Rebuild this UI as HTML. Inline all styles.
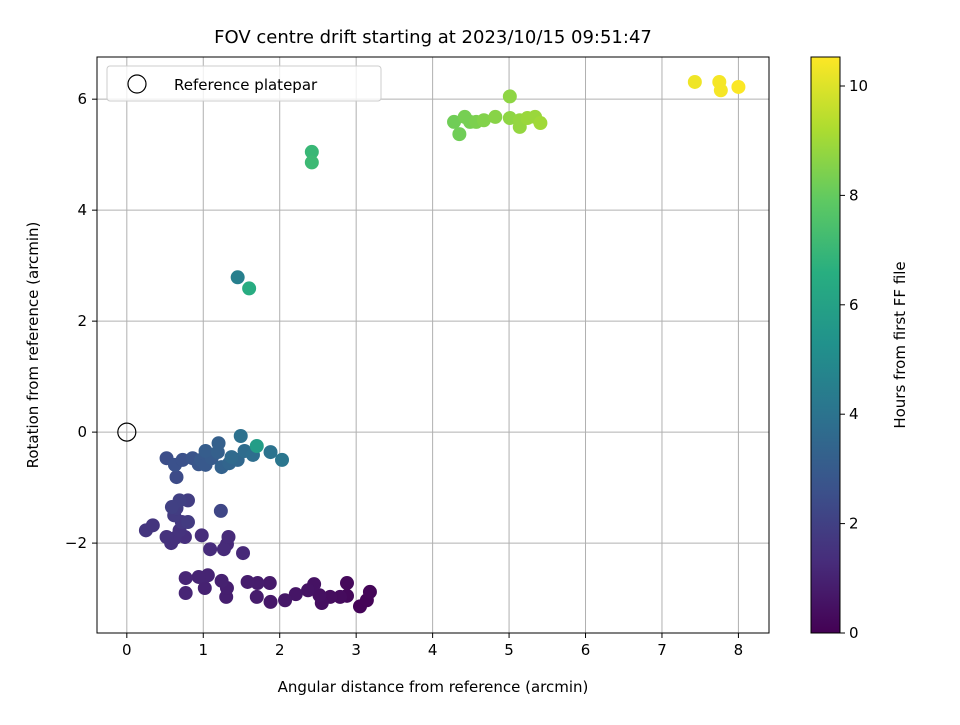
<!DOCTYPE html>
<html><head><meta charset="utf-8"><style>
body{margin:0;background:#fff;}
svg{font-family:"DejaVu Sans","Liberation Sans",sans-serif;}
</style></head><body>
<svg id="chart" width="960" height="720" viewBox="0 0 960 720" xmlns="http://www.w3.org/2000/svg">
<defs>
<linearGradient id="vir" x1="0" y1="1" x2="0" y2="0">
<stop offset="0" stop-color="#440154"/><stop offset="0.125" stop-color="#472d7b"/><stop offset="0.25" stop-color="#3b528b"/><stop offset="0.375" stop-color="#2c728e"/><stop offset="0.5" stop-color="#21918c"/><stop offset="0.625" stop-color="#28ae80"/><stop offset="0.75" stop-color="#5ec962"/><stop offset="0.875" stop-color="#addc30"/><stop offset="1" stop-color="#fde725"/>
</linearGradient>
</defs>
<text x="433" y="43" font-size="18" text-anchor="middle">FOV centre drift starting at 2023/10/15 09:51:47</text>
<g id="grid"></g>
<g id="pts"></g>
<rect x="97" y="57" width="672" height="576" fill="none" stroke="#000" stroke-width="1"/>
<g id="ticks"></g>
<text x="433" y="692" font-size="15" text-anchor="middle">Angular distance from reference (arcmin)</text>
<text transform="translate(38,345) rotate(-90)" font-size="15" text-anchor="middle">Rotation from reference (arcmin)</text>
<g>
<rect x="107" y="66" width="274" height="35" rx="3" fill="#fff" fill-opacity="0.8" stroke="#ccc"/>
<circle cx="137" cy="84" r="9" fill="none" stroke="#000" stroke-width="1.2"/>
<text x="174" y="90" font-size="15">Reference platepar</text>
</g>
<rect x="811" y="57" width="29" height="576" fill="url(#vir)" stroke="#000" stroke-width="1"/>
<g id="cbticks"></g>
<text transform="translate(905,345) rotate(-90)" font-size="15" text-anchor="middle">Hours from first FF file</text>
</svg>
<script>
const xs=[3.05,3.14,3.18,2.88,2.88,2.79,2.66,2.55,2.52,2.45,2.37,2.21,2.07,1.88,1.87,1.70,1.71,1.58,1.30,1.31,1.24,1.02,1.06,0.94,0.77,0.77,1.52,1.31,1.27,1.33,1.09,0.98,0.76,0.58,0.63,0.69,0.52,0.25,0.34,0.72,0.62,0.80,0.65,0.80,0.69,0.59,1.23,0.65,0.52,0.63,0.73,0.86,0.94,0.97,1.03,1.11,1.03,1.19,1.20,1.24,1.34,1.45,1.37,1.54,1.65,1.49,1.88,2.03,1.70,1.45,1.60,2.42,2.42,4.28,4.35,4.42,4.49,4.57,4.67,4.82,5.01,5.01,5.14,5.14,5.24,5.34,5.41,7.43,7.75,7.77,8.00];
const ys=[-3.14,-3.03,-2.88,-2.95,-2.72,-2.97,-2.97,-3.08,-2.94,-2.74,-2.85,-2.92,-3.03,-3.06,-2.72,-2.97,-2.72,-2.70,-2.97,-2.81,-2.68,-2.81,-2.58,-2.61,-2.63,-2.90,-2.18,-2.02,-2.11,-1.89,-2.11,-1.86,-1.89,-2.00,-1.91,-1.77,-1.89,-1.77,-1.68,-1.62,-1.50,-1.62,-1.37,-1.23,-1.23,-1.35,-1.42,-0.81,-0.47,-0.59,-0.50,-0.47,-0.58,-0.50,-0.59,-0.47,-0.34,-0.36,-0.20,-0.63,-0.56,-0.50,-0.45,-0.34,-0.41,-0.07,-0.36,-0.50,-0.25,2.79,2.59,5.05,4.86,5.59,5.37,5.68,5.59,5.59,5.62,5.68,6.05,5.66,5.50,5.62,5.66,5.68,5.57,6.31,6.31,6.16,6.22];
const hours=[0.1,0.1,0.15,0.2,0.25,0.3,0.35,0.4,0.45,0.5,0.55,0.6,0.65,0.7,0.75,0.8,0.8,0.85,0.9,0.9,0.95,1.0,1.05,1.05,1.1,1.1,1.2,1.2,1.25,1.25,1.3,1.35,1.4,1.45,1.45,1.5,1.5,1.6,1.6,1.7,1.8,1.8,1.9,1.9,2.0,2.0,2.2,2.4,2.5,2.6,2.6,2.7,2.8,2.9,2.9,3.0,3.1,3.2,3.2,3.3,3.4,3.5,3.6,3.7,3.8,3.9,4.0,4.1,5.8,4.5,6.5,7.0,7.1,8.2,8.2,8.3,8.3,8.4,8.5,8.6,8.7,8.7,8.8,8.8,8.9,8.9,9.0,10.3,10.4,10.4,10.5];
const xTicks=[0,1,2,3,4,5,6,7,8];
const yTicks=[-2,0,2,4,6];
const cTicks=[0,2,4,6,8,10];
const X0=-0.39,X1=8.4,Y0=-3.62,Y1=6.76,C1=10.53;
const sx=v=>97+(v-X0)/(X1-X0)*672;
const sy=v=>633-(v-Y0)/(Y1-Y0)*576;
const sc=v=>633-v/C1*576;
const NS="http://www.w3.org/2000/svg";
function mk(t,a,p){const e=document.createElementNS(NS,t);for(const k in a)e.setAttribute(k,a[k]);p.appendChild(e);return e;}
const stops=[[68,1,84],[71,45,123],[59,82,139],[44,114,142],[33,145,140],[40,174,128],[94,201,98],[173,220,48],[253,231,37]];
function vir(t){t=Math.max(0,Math.min(1,t))*8;const i=Math.min(7,Math.floor(t)),f=t-i,a=stops[i],b=stops[i+1];return `rgb(${a.map((v,k)=>Math.round(v+(b[k]-v)*f)).join(',')})`;}
const g=document.getElementById('grid'),tk=document.getElementById('ticks'),pts=document.getElementById('pts'),cb=document.getElementById('cbticks');
xTicks.forEach(v=>{const x=sx(v);
const l=mk('line',{x1:x,x2:x,y1:57,y2:633,stroke:'#b0b0b0','stroke-width':1},g);
mk('line',{x1:x,x2:x,y1:633,y2:638,stroke:'#000'},tk);
const t=mk('text',{x:x,y:655,'font-size':15,'text-anchor':'middle'},tk);t.textContent=v;});
yTicks.forEach(v=>{const y=sy(v);
const l=mk('line',{x1:97,x2:769,y1:y,y2:y,stroke:'#b0b0b0','stroke-width':1},g);
mk('line',{x1:92,x2:97,y1:y,y2:y,stroke:'#000'},tk);
const t=mk('text',{x:87,y:y+5,'font-size':15,'text-anchor':'end'},tk);t.textContent=v<0?'\u2212'+(-v):v;});
xs.forEach((v,i)=>{const c=mk('circle',{cx:sx(v),cy:sy(ys[i]),r:7,fill:vir(hours[i]/C1)},pts);

});
const rc=mk('circle',{cx:sx(0),cy:sy(0),r:9,fill:'none',stroke:'#000','stroke-width':1.2},pts);


cTicks.forEach(v=>{const y=sc(v);
mk('line',{x1:840,x2:845,y1:y,y2:y,stroke:'#000'},cb);
const t=mk('text',{x:849,y:y+5,'font-size':15},cb);t.textContent=v;});
</script>
</body></html>
